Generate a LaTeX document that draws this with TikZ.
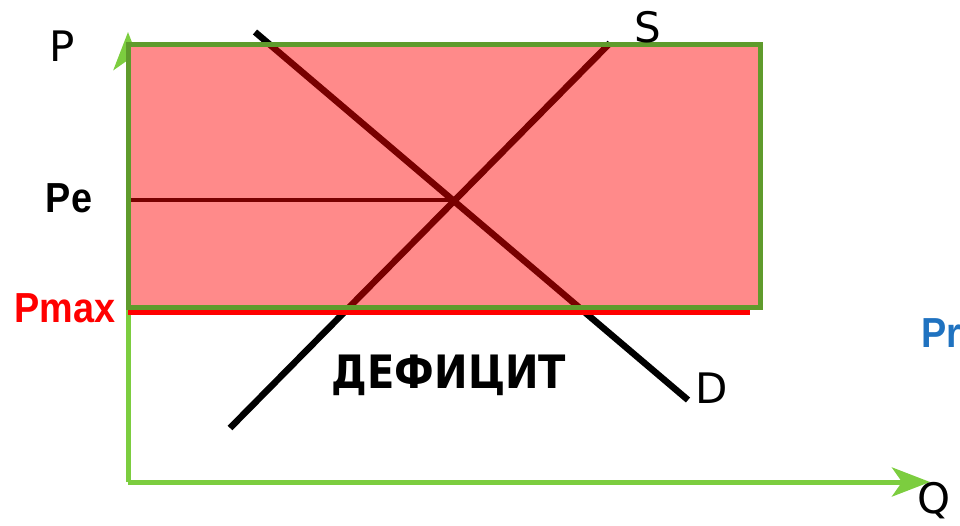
\documentclass[tikz,border=0pt]{standalone}
\usepackage{fontspec}
\setmainfont{DejaVu Sans}
\newfontfamily\libsans{Liberation Sans}
\usetikzlibrary{arrows.meta}
\definecolor{axisgreen}{HTML}{7CCD3F}
\definecolor{boxgreen}{HTML}{5F9B2C}
\definecolor{pinkfill}{HTML}{FF8A8A}
\definecolor{darkline}{HTML}{780000}
\definecolor{prblue}{HTML}{1F72C0}
\definecolor{pmaxred}{HTML}{FF0000}
\tikzset{
  axisline/.style={draw=axisgreen, line width=5pt, -{Stealth[length=38pt,width=29pt,inset=10pt]}},
  curve/.style={line width=6.5pt},
  thinlab/.style={font=\fontsize{42}{44}\selectfont, anchor=base, inner sep=0pt},
  boldlab/.style={font=\libsans\bfseries\fontsize{42}{44}\selectfont, anchor=base, inner sep=0pt, xscale=0.9},
}
\begin{document}
\begin{tikzpicture}[x=1pt,y=-1pt]
\useasboundingbox (0,0) rectangle (960,526);
% coordinates
\coordinate (O) at (128,482);
\coordinate (Ptop) at (128,32);
\coordinate (Qend) at (930,482);
\coordinate (Stop) at (610,43);
\coordinate (Sbot) at (230,428);
\coordinate (Dtop) at (255,32);
\coordinate (Dbot) at (688,400);
\coordinate (E) at (455,200);
\coordinate (PeL) at (128,200);
\coordinate (BoxA) at (128,45);
\coordinate (BoxB) at (760,307);
\coordinate (PmaxL) at (128,312);
\coordinate (PmaxR) at (750,312);
% axes
\draw[axisline] (O) -- (Ptop);
\draw[axisline] (O) -- (Qend);
% curves (outside parts)
\draw[curve, black] (Sbot) -- (Stop);
\draw[curve, black] (Dtop) -- (Dbot);
% shaded area
\fill[pinkfill] (BoxA) rectangle (BoxB);
\begin{scope}
  \clip (BoxA) rectangle (BoxB);
  \draw[curve, darkline] (Sbot) -- (Stop);
  \draw[curve, darkline] (Dtop) -- (Dbot);
  \draw[darkline, line width=3.5pt] (PeL) -- (E);
\end{scope}
\draw[boxgreen, line width=5pt] (BoxA) rectangle (BoxB);
\draw[pmaxred, line width=5pt] (PmaxL) -- (PmaxR);
% labels
\node[thinlab] (lP) at (62,62) {P};
\node[thinlab] (lS) at (648,43) {S};
\node[thinlab] (lD) at (712,403) {D};
\node[thinlab] (lQ) at (934,513) {Q};
\node[boldlab] (lPe) at (69,213) {Pe};
\node[boldlab, text=pmaxred] (lPmax) at (65,323) {Pmax};
\node[boldlab, text=prblue, anchor=base west] (lPr) at (921,347) {Pr};
\node[font=\bfseries\fontsize{46}{48}\selectfont, anchor=base, inner sep=0pt, xscale=0.87] (lDef) at (449,388) {ДЕФИЦИТ};
\end{tikzpicture}
\end{document}
